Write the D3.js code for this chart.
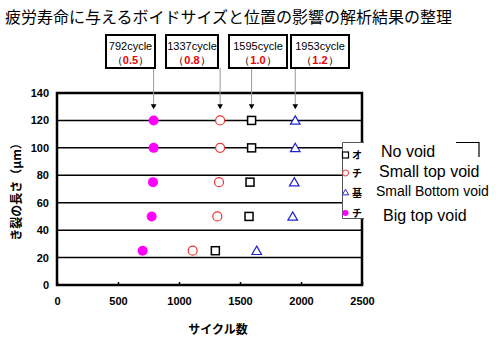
<!DOCTYPE html>
<html><head><meta charset="utf-8">
<script src="https://cdn.jsdelivr.net/npm/d3@7"></script>
<style>body{margin:0;background:#fff}svg{display:block}</style>
</head><body>
<svg id="c" width="500" height="353"></svg>
<script>
const xTicks = [0, 500, 1000, 1500, 2000, 2500];
const yTicks = [0, 20, 40, 60, 80, 100, 120, 140];
const gridY = [20, 40, 60, 80, 100, 120];
const seriesNames = ["No void", "Small top void", "Small Bottom void", "Big top void"];
const legendChars = ["オ", "チ", "基", "チ"];
const crackLen = [120, 100, 75, 50, 25];
const noVoid = [1595, 1595, 1582, 1574, 1298];
const smallTop = [1337, 1337, 1328, 1314, 1112];
const smallBottom = [1953, 1953, 1945, 1932, 1637];
const bigTop = [792, 792, 787, 776, 702];
const annCycles = [792, 1337, 1595, 1953];
const annRatio = ["0.5", "0.8", "1.0", "1.2"];

const svg = d3.select("#c");
const L = 57, R = 362, T = 93, B = 285;
const x = d3.scaleLinear().domain([0, 2500]).range([L, R]);
const y = d3.scaleLinear().domain([0, 140]).range([B, T]);
const bold = "Arial, 'Liberation Sans', sans-serif";

svg.append("text").attr("x", 5).attr("y", 23).attr("font-size", 16)
  .attr("font-family", "'Noto Sans CJK JP', sans-serif").text("疲労寿命に与えるボイドサイズと位置の影響の解析結果の整理");

// grid
svg.append("g").selectAll("line").data(gridY).join("line")
  .attr("x1", L).attr("x2", R).attr("y1", d => y(d)).attr("y2", d => y(d))
  .attr("stroke", "#000").attr("stroke-width", 1.5);

// axes
const xa = svg.append("g").attr("transform", `translate(0,${B})`)
  .call(d3.axisBottom(x).tickValues(xTicks).tickFormat(d3.format("d")).tickSize(-3).tickPadding(12));
const ya = svg.append("g").attr("transform", `translate(${L},0)`)
  .call(d3.axisLeft(y).tickValues(yTicks).tickFormat(d3.format("d")).tickSize(0).tickPadding(8));
[xa, ya].forEach(a => {
  a.select(".domain").remove();
  a.selectAll("text").attr("font-family", bold).attr("font-weight", "bold").attr("font-size", 11).attr("fill", "#000");
  a.selectAll("line").attr("stroke", "#000").attr("stroke-width", 1.5);
});
svg.append("rect").attr("x", L).attr("y", T).attr("width", R - L).attr("height", B - T)
  .attr("fill", "none").attr("stroke", "#000").attr("stroke-width", 2.5);

svg.append("text").attr("x", 218).attr("y", 334).attr("text-anchor", "middle")
  .attr("font-family", "'Noto Sans CJK JP', sans-serif").attr("font-weight", "bold").attr("font-size", 12).text("サイクル数");
svg.append("text").attr("transform", `translate(21,${(T + B) / 2}) rotate(-90)`).attr("text-anchor", "middle")
  .attr("font-family", "'Noto Sans CJK JP', sans-serif").attr("font-weight", "bold").attr("font-size", 12).text("き裂の長さ（μm）");

// annotations
const boxX = [106, 166, 229, 291], boxW = [49, 52, 58, 58];
annCycles.forEach((c, i) => {
  const g = svg.append("g");
  g.append("line").attr("x1", x(c)).attr("x2", x(c)).attr("y1", 68).attr("y2", 106).attr("stroke", "#999").attr("stroke-width", 1);
  g.append("path").attr("d", d3.symbol(d3.symbolTriangle, 14)()).attr("transform", `translate(${x(c)},${106}) rotate(180)`).attr("fill", "#000");
  g.append("rect").attr("x", boxX[i]).attr("y", 35).attr("width", boxW[i]).attr("height", 33)
    .attr("fill", "#fff").attr("stroke", "#000").attr("stroke-width", 2);
  const cx = boxX[i] + boxW[i] / 2;
  g.append("text").attr("x", cx).attr("y", 50).attr("text-anchor", "middle").attr("font-family", bold).attr("font-size", 11).text(c + "cycle");
  const t = g.append("text").attr("x", cx).attr("y", 64).attr("text-anchor", "middle").attr("font-family", bold).attr("font-size", 11);
  t.append("tspan").text("（");
  t.append("tspan").attr("fill", "#e00").attr("font-weight", "bold").text(annRatio[i]);
  t.append("tspan").text("）");
});

// series
const mk = (data) => data.map((v, i) => ({ x: v, y: crackLen[i] }));
svg.append("g").selectAll("rect").data(mk(noVoid)).join("rect")
  .attr("x", d => x(d.x) - 4).attr("y", d => y(d.y) - 4).attr("width", 8).attr("height", 8)
  .attr("fill", "#fff").attr("stroke", "#000").attr("stroke-width", 1.5);
svg.append("g").selectAll("circle").data(mk(smallTop)).join("circle")
  .attr("cx", d => x(d.x)).attr("cy", d => y(d.y)).attr("r", 4.5)
  .attr("fill", "#fff").attr("stroke", "#e33").attr("stroke-width", 1.2);
svg.append("g").selectAll("path").data(mk(smallBottom)).join("path")
  .attr("d", d3.symbol(d3.symbolTriangle, 40)())
  .attr("transform", d => `translate(${x(d.x)},${y(d.y) + 1})`)
  .attr("fill", "#fff").attr("stroke", "#22c").attr("stroke-width", 1.2);
svg.append("g").selectAll("circle").data(mk(bigTop)).join("circle")
  .attr("cx", d => x(d.x)).attr("cy", d => y(d.y)).attr("r", 5).attr("fill", "#f0f");

// legend (covers the plot's right border)
svg.append("rect").attr("x", 342).attr("y", 142).attr("width", 22).attr("height", 77).attr("fill", "#fff");
svg.append("path").attr("d", "M364,142.5H342.5V218.5H364").attr("fill", "none").attr("stroke", "#555").attr("stroke-width", 1);
const ly = [155, 173, 193, 213];
const lg = svg.append("g");
lg.append("rect").attr("x", 342.5).attr("y", ly[0] - 3).attr("width", 6).attr("height", 6).attr("fill", "#fff").attr("stroke", "#000").attr("stroke-width", 1.2);
lg.append("circle").attr("cx", 345.5).attr("cy", ly[1]).attr("r", 3).attr("fill", "#fff").attr("stroke", "#e33");
lg.append("path").attr("d", d3.symbol(d3.symbolTriangle, 18)()).attr("transform", `translate(345.5,${ly[2]})`).attr("fill", "#fff").attr("stroke", "#22c");
lg.append("circle").attr("cx", 345.5).attr("cy", ly[3]).attr("r", 3).attr("fill", "#f0f");
lg.selectAll("text").data(legendChars).join("text")
  .attr("x", 352).attr("y", (d, i) => ly[i] + 4).attr("font-size", 10)
  .attr("font-family", "'Noto Sans CJK JP', sans-serif").attr("font-weight", "bold").text(d => d);

const labX = [381, 379, 376, 383], labY = [157, 177, 196, 221], labS = [16, 16, 14, 16];
svg.append("g").selectAll("text").data(seriesNames).join("text")
  .attr("x", (d, i) => labX[i]).attr("y", (d, i) => labY[i]).attr("font-size", (d, i) => labS[i])
  .attr("font-family", bold).text(d => d);
svg.append("path").attr("d", "M456,142.5H479V157").attr("fill", "none").attr("stroke", "#000").attr("stroke-width", 1.2);
</script>
</body></html>
